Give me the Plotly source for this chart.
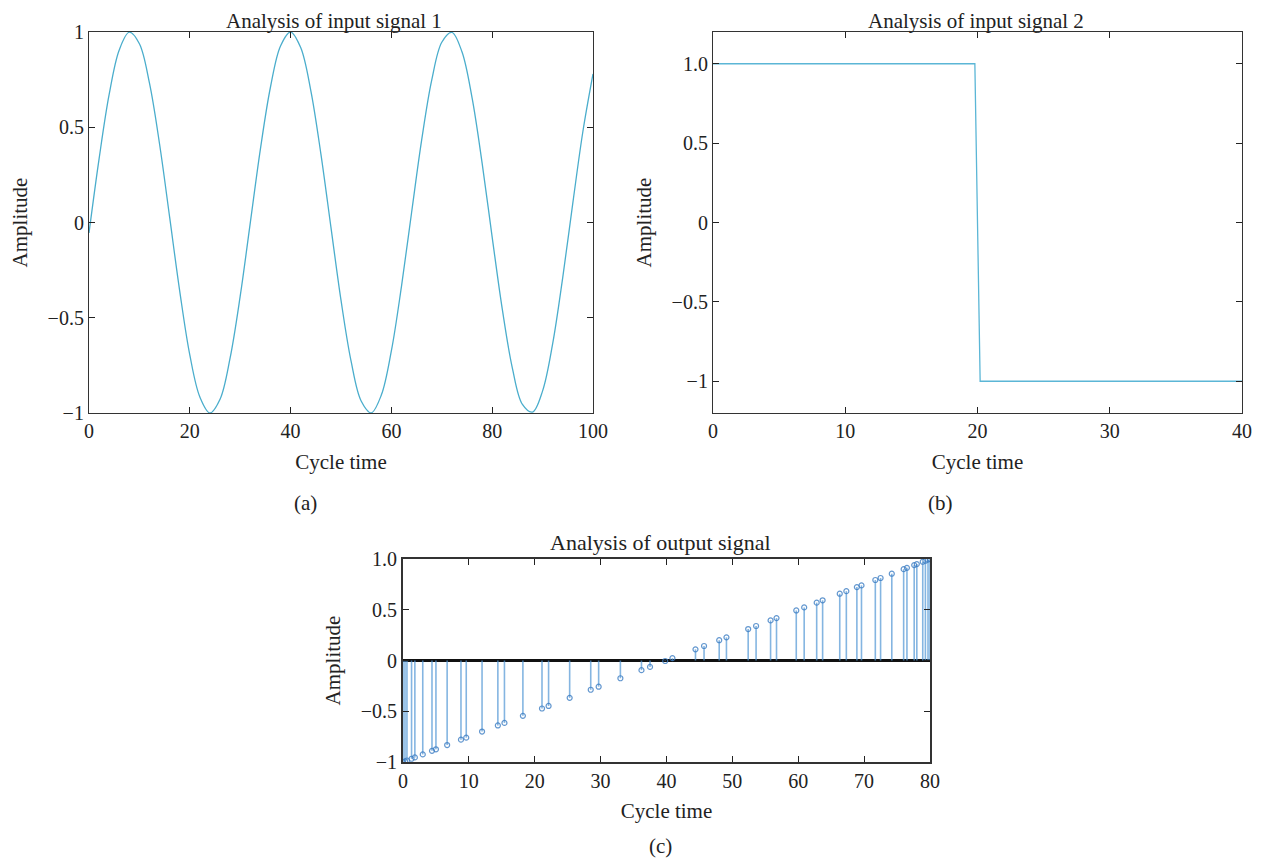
import plotly.graph_objects as go

# ---- Data ----
# (a) input signal 1
sig1_t = [0, 2, 4, 6, 8, 10, 12, 14, 16, 18, 20, 22, 24, 26, 28, 30, 32, 34, 36, 38,
          40, 42, 44, 46, 48, 50, 52, 54, 56, 58, 60, 62, 64, 66, 68, 70, 72, 74, 76, 78,
          80, 82, 84, 86, 88, 90, 92, 94, 96, 98, 100]
sig1_y = [-0.055, 0.334, 0.672, 0.906, 0.999, 0.938, 0.731, 0.412, 0.028, -0.360,
          -0.695, -0.916, -1.000, -0.928, -0.711, -0.387, -0.002, 0.384, 0.710, 0.927,
          1.000, 0.918, 0.694, 0.362, -0.024, -0.408, -0.728, -0.937, -0.999, -0.906,
          -0.673, -0.335, 0.051, 0.432, 0.747, 0.946, 0.998, 0.896, 0.655, 0.312,
          -0.078, -0.455, -0.764, -0.955, -0.995, -0.884, -0.636, -0.288, 0.103, 0.479,
          0.780]

# (b) input signal 2
sig2_t = [0, 19.8, 20.2, 40]
sig2_y = [1.0, 1.0, -1.0, -1.0]

# (c) output signal (stem samples)
out_t = [0, 0.3, 0.6, 1.3, 1.8, 3.0, 4.4, 5.0, 6.7, 8.8, 9.6, 12.0, 14.4, 15.4, 18.2,
         21.1, 22.1, 25.3, 28.5, 29.7, 33.0, 36.2, 37.5, 39.8, 40.9, 44.4, 45.7, 48.0,
         49.1, 52.4, 53.6, 55.8, 56.7, 59.7, 60.9, 62.8, 63.7, 66.3, 67.3, 68.9, 69.6,
         71.7, 72.5, 74.2, 76.0, 76.5, 77.6, 78.0, 78.9, 79.3, 79.7, 80.0]
out_y = [-1.0, -0.993, -0.985, -0.968, -0.955, -0.925, -0.89, -0.875, -0.833, -0.78,
         -0.76, -0.70, -0.64, -0.615, -0.545, -0.473, -0.448, -0.368, -0.288, -0.258,
         -0.175, -0.095, -0.063, -0.005, 0.023, 0.11, 0.143, 0.20, 0.228, 0.31, 0.34,
         0.395, 0.418, 0.493, 0.523, 0.57, 0.593, 0.658, 0.683, 0.723, 0.74, 0.793,
         0.813, 0.855, 0.90, 0.913, 0.94, 0.95, 0.973, 0.983, 0.993, 1.0]

# tick labels
a_yticks = [-1, -0.5, 0, 0.5, 1]
a_yticktext = ["\u22121", "\u22120.5", "0", "0.5", "1"]
a_xticks = [0, 20, 40, 60, 80, 100]
b_yticks = [-1, -0.5, 0, 0.5, 1]
b_yticktext = ["\u22121", "\u22120.5", "0", "0.5", "1.0"]
b_xticks = [0, 10, 20, 30, 40]
c_yticks = [-1, -0.5, 0, 0.5, 1]
c_yticktext = ["\u22121", "\u22120.5", "0", "0.5", "1.0"]
c_xticks = [0, 10, 20, 30, 40, 50, 60, 70, 80]

FONT = "Liberation Serif"
OFF = 8                      # page body margin
W, H = 1263 - 2 * OFF, 867 - 2 * OFF

fig = go.Figure()

fig.add_trace(go.Scatter(x=sig1_t, y=sig1_y, mode="lines",
                         line=dict(color="#4aadcc", width=1.3, shape="spline", smoothing=1.0),
                         xaxis="x", yaxis="y", showlegend=False))
fig.add_trace(go.Scatter(x=sig2_t, y=sig2_y, mode="lines", line=dict(color="#5bb6d6", width=1.3),
                         xaxis="x2", yaxis="y2", showlegend=False))

# stems
sx, sy = [], []
for t, v in zip(out_t, out_y):
    sx += [t, t, None]
    sy += [0, v, None]
fig.add_trace(go.Scatter(x=sx, y=sy, mode="lines", line=dict(color="rgba(80,150,212,0.7)", width=1.6),
                         xaxis="x3", yaxis="y3", showlegend=False))
fig.add_trace(go.Scatter(x=out_t, y=out_y, mode="markers",
                         marker=dict(symbol="circle-open", size=5, color="rgba(60,125,195,0.8)", line=dict(width=1.2)),
                         xaxis="x3", yaxis="y3", showlegend=False))

def dom_x(a, b):
    return [(a - OFF) / W, (b - OFF) / W]

def dom_y(top, bot):
    return [1 - (bot - OFF) / H, 1 - (top - OFF) / H]

tickfont = dict(family=FONT, size=20, color="#222")
titlefont = dict(family=FONT, size=21, color="#222")

def axis(domain, rng, tickvals, ticktext=None, lw=1.2, anchor=None, title=None, standoff=None):
    d = dict(domain=domain, range=rng, tickvals=tickvals, showgrid=False, zeroline=False,
             showline=True, linecolor="#333", linewidth=lw, mirror="ticks", ticks="inside",
             ticklen=6, tickwidth=1.2, tickcolor="#222", tickfont=tickfont, anchor=anchor,
             automargin=False)
    if ticktext is not None:
        d["ticktext"] = ticktext
    if title is not None:
        d["title"] = dict(text=title, font=titlefont, standoff=standoff)
    return d

fig.update_layout(
    width=W, height=H, autosize=False,
    margin=dict(l=0, r=0, t=0, b=0, autoexpand=False),
    paper_bgcolor="white", plot_bgcolor="white",
    font=dict(family=FONT, color="#222"),
    xaxis=axis(dom_x(89, 593), [0, 100], a_xticks, anchor="y", title="Cycle time", standoff=13),
    yaxis=axis(dom_y(32, 413), [-1, 1], a_yticks, a_yticktext, anchor="x", title="Amplitude", standoff=14),
    xaxis2=axis(dom_x(713, 1242), [0, 40], b_xticks, anchor="y2", title="Cycle time", standoff=13),
    yaxis2=axis(dom_y(32, 413), [-1.2, 1.2], b_yticks, b_yticktext, anchor="x2", title="Amplitude", standoff=14),
    xaxis3=axis(dom_x(403, 930), [0, 80], c_xticks, lw=2, anchor="y3", title="Cycle time", standoff=12),
    yaxis3=axis(dom_y(559, 762), [-1, 1], c_yticks, c_yticktext, lw=2, anchor="x3", title="Amplitude", standoff=14),
)
fig.update_layout(yaxis3=dict(zeroline=True, zerolinecolor="#111", zerolinewidth=3))

# (text, center x in page px, y in paper units, yanchor, font size)
annos = [
    ("Analysis of input signal 1", 334, 1.0, "top", 21),
    ("Analysis of input signal 2", 976, 1.0, "top", 21),
    ("Analysis of output signal", 660, 1 - (542 - OFF) / H, "middle", 22),
    ("(a)", 305, 1 - (503 - OFF) / H, "middle", 21),
    ("(b)", 940, 1 - (503 - OFF) / H, "middle", 21),
    ("(c)", 660, 0.0, "bottom", 21),
]
for txt, px, yy, ya, fs in annos:
    fig.add_annotation(text=txt, x=(px - OFF) / W, y=yy, xref="paper", yref="paper",
                       showarrow=False, xanchor="center", yanchor=ya, borderpad=0,
                       font=dict(family=FONT, size=fs, color="#222"))

fig.write_html("out.html")
